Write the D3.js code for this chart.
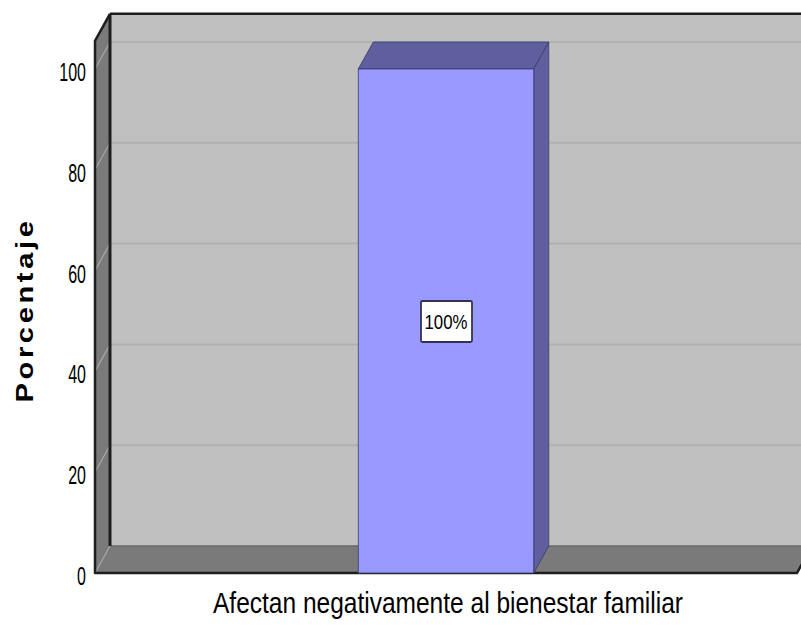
<!DOCTYPE html>
<html>
<head>
<meta charset="utf-8">
<script src="https://cdn.jsdelivr.net/npm/d3@7"></script>
<style>
  html, body { margin: 0; padding: 0; background: #ffffff; }
  svg { display: block; }
</style>
</head>
<body>
<svg id="chart" width="801" height="627"></svg>
<script>
// Data
const categories = ["Afectan negativamente al bienestar familiar"];
const percentages = [100];
const barLabels = ["100%"];
const yTicks = [0, 20, 40, 60, 80, 100];
const yTitle = "Porcentaje";

const sans = "'Liberation Sans', Arial, sans-serif";
const svg = d3.select("#chart");

// Squeeze or stretch a text element horizontally by a factor of its natural width
function fit(sel, factor) {
  sel.each(function () {
    const len = this.getComputedTextLength();
    d3.select(this).attr("textLength", len * factor).attr("lengthAdjust", "spacingAndGlyphs");
  });
  return sel;
}

// 3D depth offset between front and back planes
const dx = 15, dy = -27;
const wallMax = 105.6;

const y = d3.scaleLinear().domain([0, 100]).range([573, 69]);
const x = d3.scaleBand().domain(categories).range([95, 797]).paddingInner(0.6).paddingOuter(0.6);

const x0 = 95, x1 = 797;
const y0 = y(0), yTop = y(wallMax);
const poly = pts => pts.map(p => p.join(",")).join(" ");

// Back wall
svg.append("polygon")
  .attr("points", poly([[x0 + dx, yTop + dy], [860, yTop + dy], [860, y0 + dy], [x0 + dx, y0 + dy]]))
  .attr("fill", "#c0c0c0");

// Left side wall
svg.append("polygon")
  .attr("points", poly([[x0, yTop], [x0 + dx, yTop + dy], [x0 + dx, y0 + dy], [x0, y0]]))
  .attr("fill", "#7a7a7a");

// Floor
svg.append("polygon")
  .attr("points", poly([[x0, y0], [x0 + dx, y0 + dy], [x1 + dx, y0 + dy], [x1, y0]]))
  .attr("fill", "#7a7a7a");

// Gridlines on back wall and side wall
const grid = svg.append("g");
yTicks.filter(t => t > 0).forEach(t => {
  grid.append("line")
    .attr("x1", x0 + dx).attr("x2", 860)
    .attr("y1", y(t) + dy).attr("y2", y(t) + dy)
    .attr("stroke", "#b0b0b0").attr("stroke-width", 2);
  grid.append("line")
    .attr("x1", x0).attr("x2", x0 + dx)
    .attr("y1", y(t)).attr("y2", y(t) + dy)
    .attr("stroke", "#a8a8a8").attr("stroke-width", 1.2);
});
// Back edge of floor
grid.append("line")
  .attr("x1", x0 + dx).attr("x2", x1 + dx)
  .attr("y1", y0 + dy).attr("y2", y0 + dy)
  .attr("stroke", "#6a6a6a").attr("stroke-width", 1.5);
grid.append("line")
  .attr("x1", x0).attr("x2", x0 + dx)
  .attr("y1", y0).attr("y2", y0 + dy)
  .attr("stroke", "#a8a8a8").attr("stroke-width", 1.2);

// Frame edges
const edge = svg.append("g").attr("stroke", "#1e1e1e").attr("fill", "none").attr("stroke-linejoin", "round");
edge.append("line").attr("x1", x0 + dx).attr("x2", x0 + dx).attr("y1", yTop + dy).attr("y2", y0 + dy).attr("stroke-width", 3);
edge.append("line").attr("x1", x0 + dx).attr("x2", 860).attr("y1", yTop + dy).attr("y2", yTop + dy).attr("stroke-width", 2.5);
edge.append("polyline").attr("points", poly([[x0 + dx, yTop + dy], [x0, yTop], [x0, y0], [x1, y0], [x1 + dx, y0 + dy]])).attr("stroke-width", 2.5);

// Bars
const bars = svg.append("g");
categories.forEach((c, i) => {
  const bx = x(c), bw = x.bandwidth(), by = y(percentages[i]);
  // top face
  bars.append("polygon")
    .attr("points", poly([[bx, by], [bx + dx, by + dy], [bx + bw + dx, by + dy], [bx + bw, by]]))
    .attr("fill", "#5f5f9f").attr("stroke", "#3a3a6a").attr("stroke-width", 0.8);
  // side face
  bars.append("polygon")
    .attr("points", poly([[bx + bw, by], [bx + bw + dx, by + dy], [bx + bw + dx, y0 + dy], [bx + bw, y0]]))
    .attr("fill", "#5f5f9f").attr("stroke", "#3a3a6a").attr("stroke-width", 0.8);
  // front face
  bars.append("rect")
    .attr("x", bx).attr("y", by).attr("width", bw).attr("height", y0 - by)
    .attr("fill", "#9999ff").attr("stroke", "#3a3a6a").attr("stroke-width", 0.8);

  // value label box
  const cx = bx + bw / 2, cy = y(percentages[i] / 2);
  const lg = bars.append("g");
  lg.append("rect")
    .attr("x", cx - 25).attr("y", cy - 20).attr("width", 51).attr("height", 41)
    .attr("rx", 1.5)
    .attr("fill", "#ffffff").attr("stroke", "#33334d").attr("stroke-width", 1.8);
  const txt = lg.append("text")
    .attr("x", cx - 21.5).attr("y", cy + 8)
    .attr("font-family", sans).attr("font-size", 21).attr("fill", "#000")
    .text(barLabels[i]);
  fit(txt, 0.8);
});

// Y axis tick labels
const ticks = svg.append("g").selectAll("text").data(yTicks).join("text")
  .attr("y", d => y(d) + 12)
  .attr("font-family", sans).attr("font-size", 25).attr("fill", "#000")
  .text(d => d);
fit(ticks, 0.64);
ticks.attr("x", function () { return 86 - +this.getAttribute("textLength"); });

// Axis titles
const yt = svg.append("text")
  .attr("transform", "translate(33,310) rotate(-90)")
  .attr("text-anchor", "middle")
  .attr("font-family", sans).attr("font-weight", "bold")
  .attr("font-size", 24).attr("letter-spacing", 3).attr("fill", "#000")
  .text(yTitle);
yt.attr("textLength", 185).attr("lengthAdjust", "spacingAndGlyphs");

const xt = svg.append("text")
  .attr("y", 613)
  .attr("font-family", sans).attr("font-size", 30).attr("fill", "#000")
  .text(categories[0]);
xt.attr("textLength", 470).attr("lengthAdjust", "spacingAndGlyphs")
  .attr("x", x(categories[0]) + x.bandwidth() / 2 - 233);
</script>
</body>
</html>
